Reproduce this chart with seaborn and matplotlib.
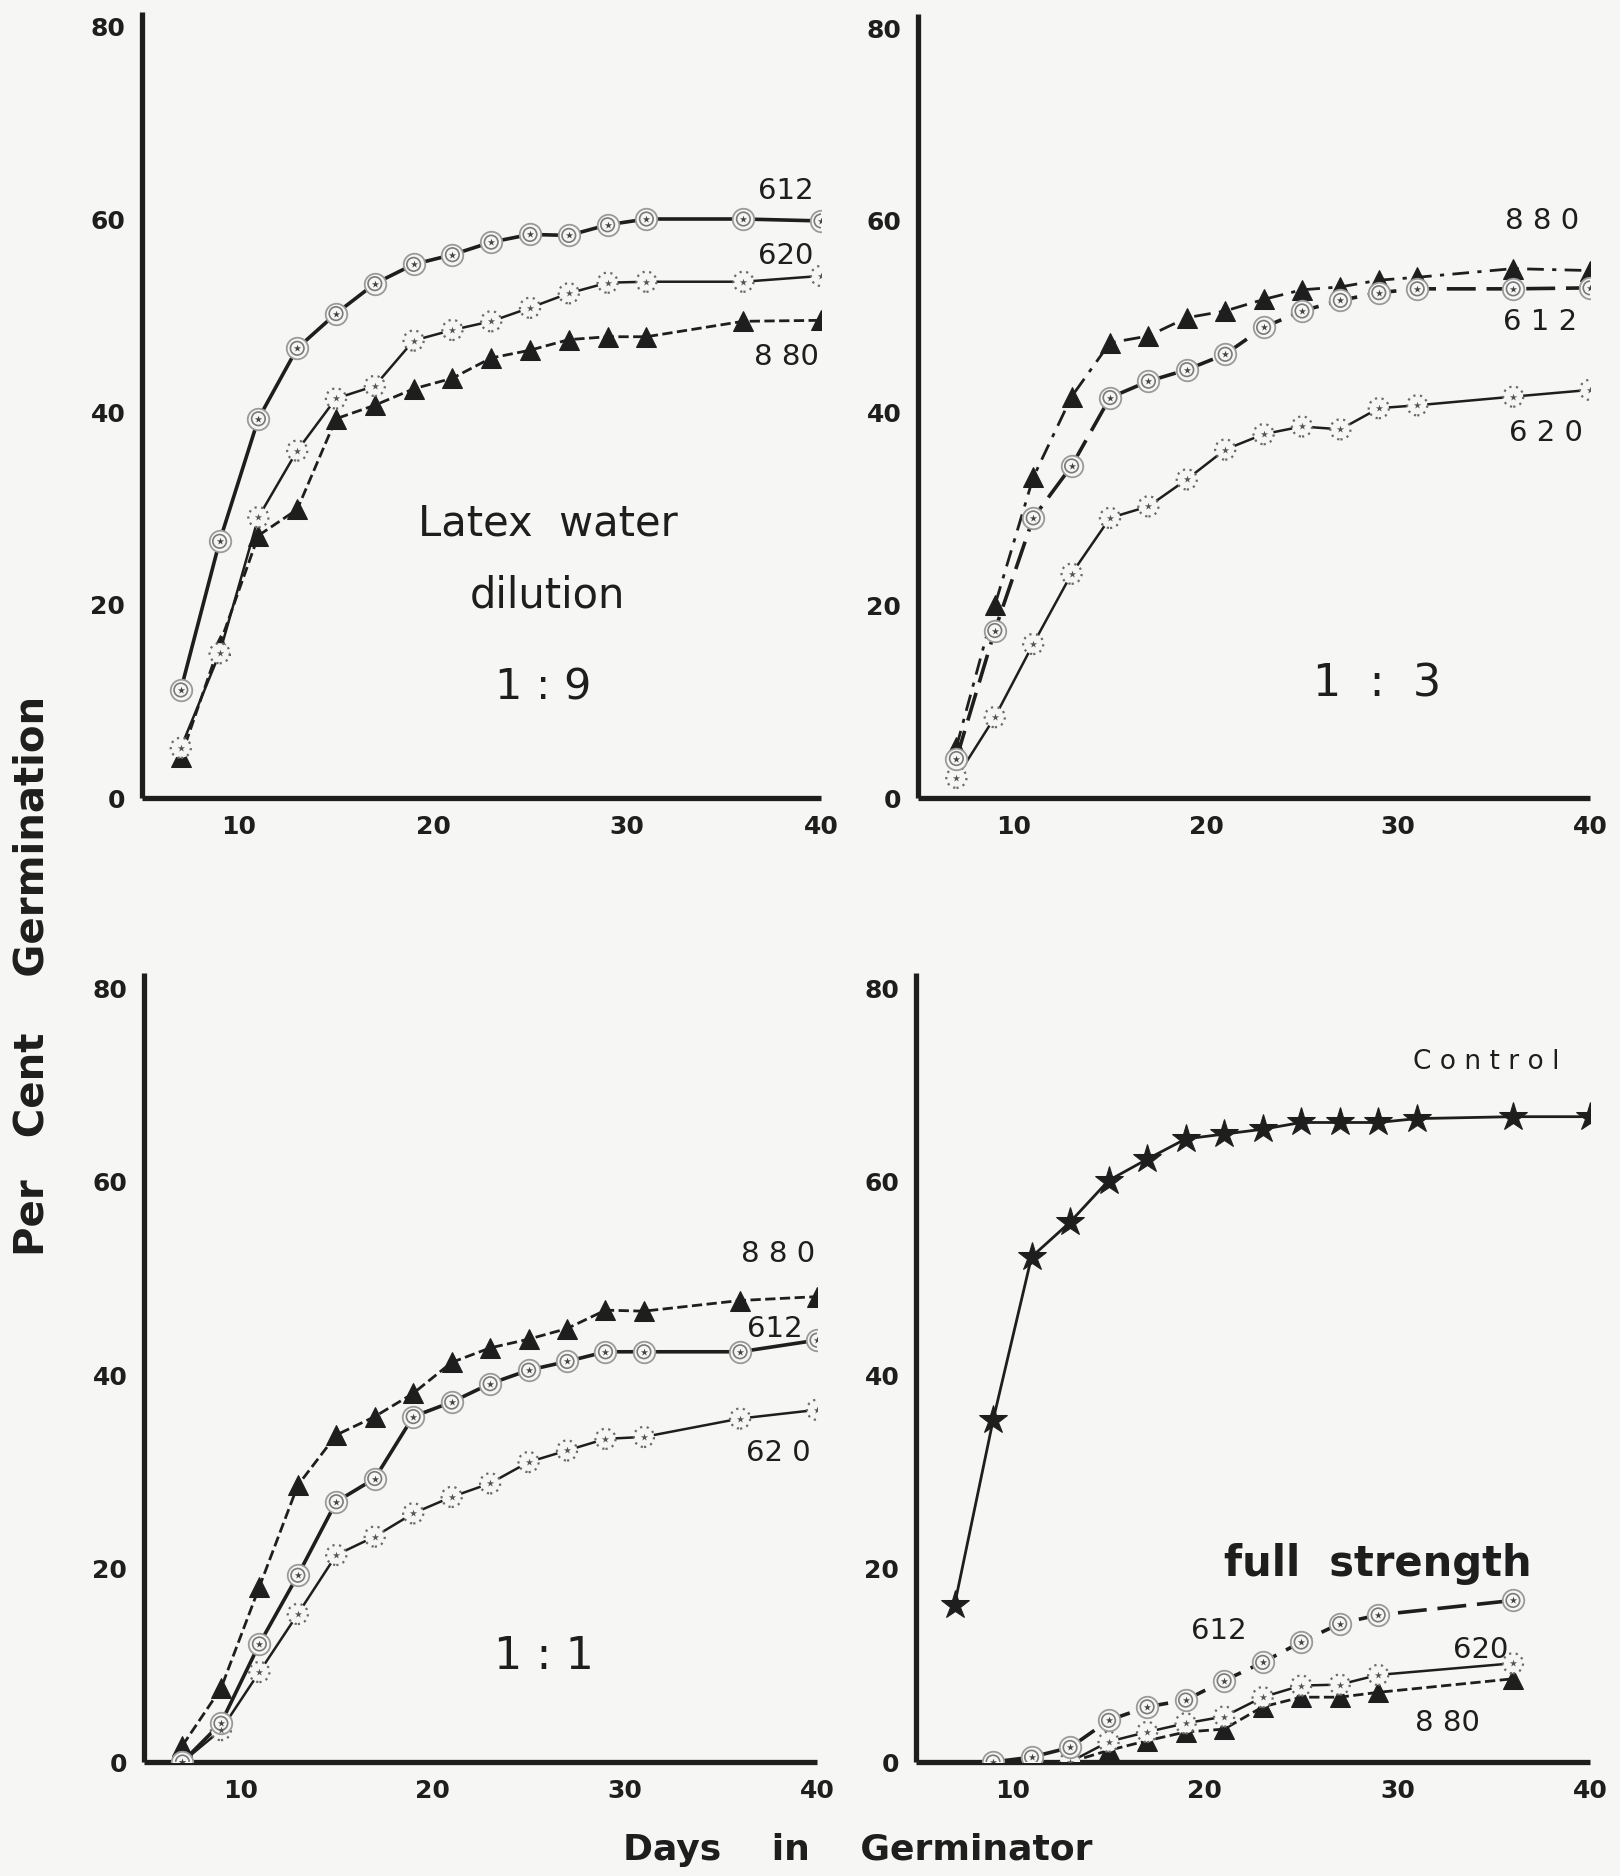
import numpy as np
import pandas as pd
import matplotlib
matplotlib.use("Agg")
import matplotlib.pyplot as plt
import seaborn as sns

sns.set_theme(style="white")
plt.rcParams['font.family'] = ['DejaVu Sans']

# ---------------- data ----------------
days = [7, 9, 11, 13, 15, 17, 19, 21, 23, 25, 27, 29, 31, 36, 40]

d19_612 = [11.2, 26.6, 39.3, 46.6, 50.2, 53.3, 55.3, 56.3, 57.6, 58.4, 58.3, 59.4, 60.0, 60.0, 59.8]
d19_620 = [5.2, 15.0, 29.1, 36.0, 41.4, 42.7, 47.4, 48.5, 49.4, 50.8, 52.3, 53.4, 53.5, 53.5, 54.1]
d19_880 = [4.2, 15.9, 27.2, 29.9, 39.3, 40.7, 42.4, 43.5, 45.6, 46.4, 47.5, 47.8, 47.8, 49.4, 49.5]

d13_612 = [4.1, 17.4, 29.1, 34.5, 41.6, 43.3, 44.5, 46.1, 48.9, 50.6, 51.7, 52.5, 52.9, 52.9, 53.0]
d13_620 = [2.1, 8.4, 16.0, 23.3, 29.1, 30.3, 33.1, 36.2, 37.8, 38.6, 38.3, 40.5, 40.8, 41.7, 42.4]
d13_880 = [5.3, 20.0, 33.3, 41.7, 47.3, 48.0, 49.9, 50.6, 51.8, 52.8, 53.1, 53.8, 54.1, 55.0, 54.8]

d11_612 = [0.0, 4.0, 12.2, 19.3, 26.9, 29.3, 35.7, 37.2, 39.1, 40.5, 41.4, 42.4, 42.4, 42.4, 43.6]
d11_620 = [0.0, 3.3, 9.3, 15.3, 21.4, 23.3, 25.7, 27.4, 28.8, 31.0, 32.2, 33.4, 33.6, 35.5, 36.4]
d11_880 = [1.7, 7.6, 18.1, 28.6, 33.8, 35.7, 38.1, 41.3, 42.8, 43.7, 44.8, 46.7, 46.6, 47.7, 48.1]

control = [16.2, 35.3, 52.2, 55.8, 60.1, 62.3, 64.4, 64.9, 65.4, 66.1, 66.1, 66.1, 66.5, 66.7, 66.7]

days_fs612 = [9, 11, 13, 15, 17, 19, 21, 23, 25, 27, 29, 36]
fs_612 = [0.0, 0.5, 1.5, 4.3, 5.7, 6.4, 8.4, 10.3, 12.4, 14.3, 15.2, 16.7]
days_fs = [13, 15, 17, 19, 21, 23, 25, 27, 29, 36]
fs_620 = [0.0, 2.1, 3.1, 4.0, 4.7, 6.7, 7.9, 8.0, 9.0, 10.2]
fs_880 = [0.0, 1.2, 2.2, 3.1, 3.4, 5.7, 6.7, 6.7, 7.2, 8.6]

x_ticks = [5, 10, 15, 20, 25, 30, 35, 40]
x_ticklabels = ["", "10", "", "20", "", "30", "", "40"]
y_ticks = [0, 10, 20, 30, 40, 50, 60, 70, 80]
y_ticklabels = ["0", "", "20", "", "40", "", "60", "", "80"]

# ---------------- style ----------------
BG = "#f6f6f4"
INK = "#1e1e1e"

fig = plt.figure(figsize=(16.2, 18.76), dpi=100, facecolor=BG)

W, H = 1620, 1876
def axes_at(x0, x1, y0px, y80px):
    top_val = 81.5
    h80 = y0px - y80px
    h = h80 * top_val / 80.0
    return fig.add_axes([x0 / W, 1 - y0px / H, (x1 - x0) / W, h / H])

ax_tl = axes_at(142, 821, 798, 26)
ax_tr = axes_at(918, 1590, 798, 28)
ax_bl = axes_at(144, 817, 1762, 988)
ax_br = axes_at(916, 1590, 1762, 988)

def style_axes(ax):
    ax.set_facecolor(BG)
    ax.set_xlim(5, 40)
    ax.set_ylim(0, 81.5)
    for s in ["top", "right"]:
        ax.spines[s].set_visible(False)
    for s in ["left", "bottom"]:
        ax.spines[s].set_linewidth(3.8)
        ax.spines[s].set_color(INK)
        ax.spines[s].set_capstyle("butt")
    ax.set_xticks(x_ticks)
    ax.set_xticklabels(x_ticklabels)
    ax.set_yticks(y_ticks)
    ax.set_yticklabels(y_ticklabels)
    ax.tick_params(axis="both", direction="out", length=9, width=2.8, color=INK,
                   labelsize=18, labelcolor=INK, pad=3)
    for lab in ax.get_xticklabels() + ax.get_yticklabels():
        lab.set_fontweight("bold")
    ax.set_xlabel("")
    ax.set_ylabel("")
    ax.grid(False)

def plot_612(ax, x, y, ls="-", lw=2.6):
    sns.lineplot(x=x, y=y, ax=ax, color=INK, linewidth=lw, linestyle=ls, zorder=2,
                 estimator=None, sort=False)
    sns.scatterplot(x=x, y=y, ax=ax, s=240, facecolor=BG, edgecolor="#9a9a9a",
                    linewidth=1.3, zorder=3, legend=False)
    sns.scatterplot(x=x, y=y, ax=ax, s=95, facecolor="none", edgecolor="#7a7a7a",
                    linewidth=1.2, zorder=4, legend=False)
    sns.scatterplot(x=x, y=y, ax=ax, s=30, marker="*", color="#444444",
                    linewidth=0, zorder=5, legend=False)

def plot_620(ax, x, y, ls="-", lw=1.8):
    sns.lineplot(x=x, y=y, ax=ax, color=INK, linewidth=lw, linestyle=ls, zorder=2,
                 estimator=None, sort=False)
    sns.scatterplot(x=x, y=y, ax=ax, s=210, facecolor=BG, edgecolor="#6a6a6a",
                    linewidth=1.6, linestyle=(0, (1, 2)), zorder=3, legend=False)
    sns.scatterplot(x=x, y=y, ax=ax, s=30, marker="*", color="#555555",
                    linewidth=0, zorder=5, legend=False)

def plot_880(ax, x, y, ls="--", lw=2.0):
    sns.lineplot(x=x, y=y, ax=ax, color=INK, linewidth=lw, linestyle=ls, zorder=2,
                 estimator=None, sort=False, marker="^", markersize=14,
                 markerfacecolor=INK, markeredgecolor=INK)

def plot_control(ax, x, y):
    sns.lineplot(x=x, y=y, ax=ax, color=INK, linewidth=2.0, linestyle="-", zorder=2,
                 estimator=None, sort=False, marker="*", markersize=21,
                 markerfacecolor=INK, markeredgecolor=INK)

for ax in (ax_tl, ax_tr, ax_bl, ax_br):
    style_axes(ax)

lab_kw = dict(fontsize=21, color=INK, ha="center", va="center")

# --- 1:9
plot_880(ax_tl, days, d19_880)
plot_620(ax_tl, days, d19_620)
plot_612(ax_tl, days, d19_612)
ax_tl.text(38.2, 62.9, "612", **lab_kw)
ax_tl.text(38.2, 56.2, "620", **lab_kw)
ax_tl.text(38.2, 45.7, "8 80", **lab_kw)
big_kw = dict(fontsize=30, color=INK, ha="center", va="center")
ax_tl.text(25.9, 28.4, "Latex  water", **big_kw)
ax_tl.text(25.9, 21.0, "dilution", **big_kw)
ax_tl.text(25.7, 11.4, "1 : 9", fontsize=31, color=INK, ha="center", va="center")

# --- 1:3
plot_620(ax_tr, days, d13_620)
plot_880(ax_tr, days, d13_880, ls=(0, (6, 3, 1.5, 3)))
plot_612(ax_tr, days, d13_612, ls=(0, (8, 3)))
ax_tr.text(37.5, 59.9, "8 8 0", **lab_kw)
ax_tr.text(37.4, 49.5, "6 1 2", **lab_kw)
ax_tr.text(37.7, 37.9, "6 2 0", **lab_kw)
ax_tr.text(28.9, 11.8, "1  :  3", fontsize=32, color=INK, ha="center", va="center")

# --- 1:1
plot_880(ax_bl, days, d11_880)
plot_620(ax_bl, days, d11_620)
plot_612(ax_bl, days, d11_612)
ax_bl.text(38.0, 52.5, "8 8 0", **lab_kw)
ax_bl.text(37.8, 44.8, "612", **lab_kw)
ax_bl.text(38.0, 31.9, "62 0", **lab_kw)
ax_bl.text(25.8, 10.9, "1 : 1", fontsize=32, color=INK, ha="center", va="center")

# --- full strength
plot_control(ax_br, days, control)
plot_880(ax_br, days_fs, fs_880)
plot_620(ax_br, days_fs, fs_620)
plot_612(ax_br, days_fs612, fs_612, ls=(0, (8, 3)))
ax_br.text(34.6, 72.3, "C o n t r o l", fontsize=19, color=INK, ha="center", va="center")
ax_br.text(29.0, 20.5, "full  strength", fontsize=30, fontweight="bold", color=INK,
           ha="center", va="center")
ax_br.text(20.7, 13.5, "612", **lab_kw)
ax_br.text(34.3, 11.6, "620", **lab_kw)
ax_br.text(32.6, 4.0, "8 80", **lab_kw)

# --- shared axis titles
fig.text(33 / W, 1 - 976 / H, "Per   Cent    Germination", rotation=90, fontsize=29,
         fontweight="bold", color=INK, ha="center", va="center")
fig.text(858 / W, 1 - 1850 / H, "Days    in    Germinator", fontsize=26,
         fontweight="bold", color=INK, ha="center", va="center")

fig.savefig("out.png", dpi=100, facecolor=BG)
